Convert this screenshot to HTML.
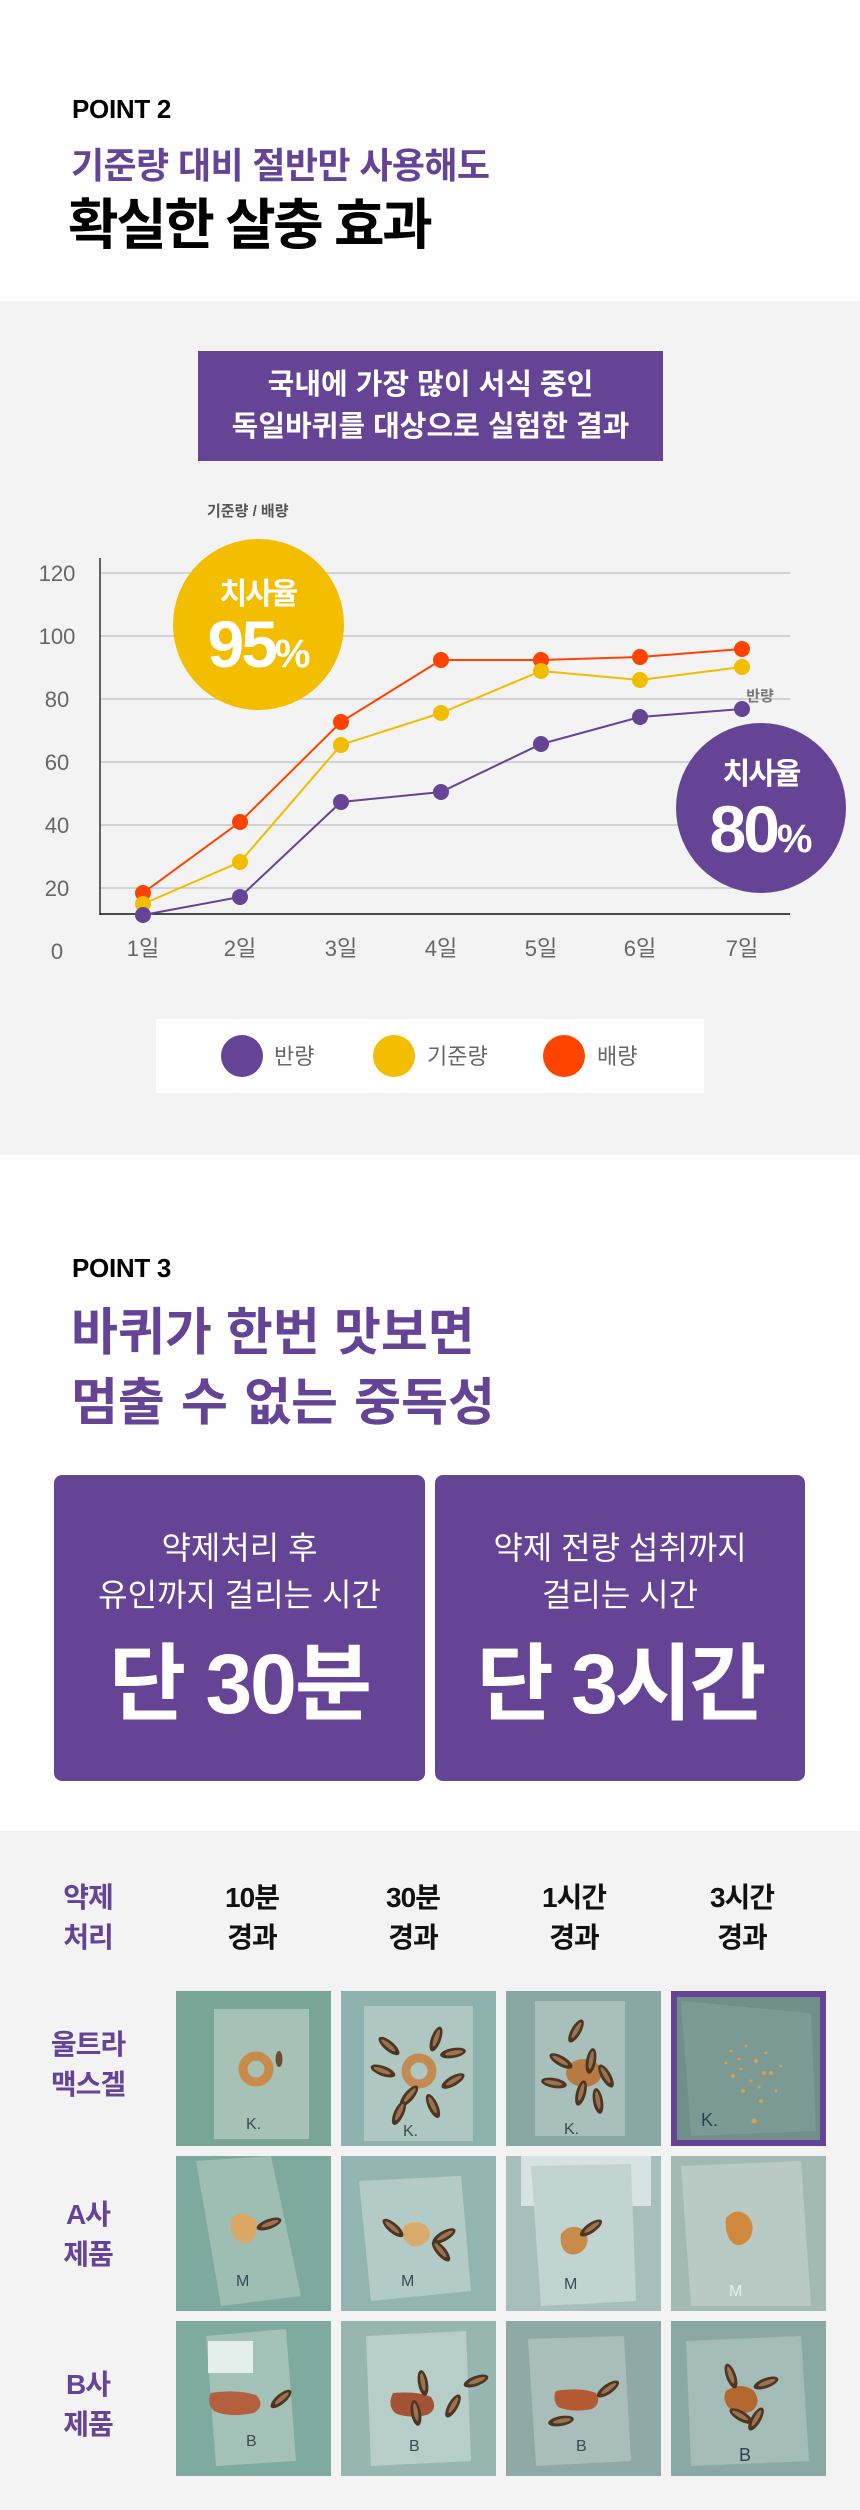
<!DOCTYPE html>
<html><head><meta charset="utf-8">
<style>
*{margin:0;padding:0;box-sizing:border-box}
body{width:860px;height:2510px;position:relative;overflow:hidden;background:#fff;font-family:"Liberation Sans","Noto Sans CJK KR",sans-serif}
.a{position:absolute;white-space:nowrap}
.band{position:absolute;left:0;width:860px;background:#f3f3f3}
.kb{font-family:"Liberation Sans","Noto Sans CJK KR",sans-serif;font-weight:700}
.c{text-align:center}
</style></head><body>

<div class="band" style="top:301px;height:854px"></div>
<div class="band" style="top:1831px;height:679px"></div>

<!-- POINT 2 -->
<div class="a kb" style="left:72px;top:96px;font-size:26px;line-height:26px;color:#000;letter-spacing:-0.3px">POINT 2</div>
<div class="a kb" style="left:71px;top:148px;font-size:36px;line-height:36px;color:#654496;letter-spacing:-0.6px">기준량 대비 절반만 사용해도</div>
<div class="a kb" style="left:68px;top:198px;font-size:55px;line-height:55px;color:#000;letter-spacing:-2.5px">확실한 살충 효과</div>

<div class="a" style="left:198px;top:351px;width:465px;height:110px;background:#654496"></div>
<div class="a kb c" style="left:198px;top:371px;width:465px;font-size:29px;line-height:29px;color:#fff;letter-spacing:0px">국내에 가장 많이 서식 중인</div>
<div class="a kb c" style="left:198px;top:413px;width:465px;font-size:29px;line-height:29px;color:#fff;letter-spacing:0px">독일바퀴를 대상으로 실험한 결과</div>

<!-- POINT 3 -->
<div class="a kb" style="left:72px;top:1255px;font-size:26px;line-height:26px;color:#000;letter-spacing:-0.3px">POINT 3</div>
<div class="a kb" style="left:71px;top:1307px;font-size:51px;line-height:51px;color:#654496;letter-spacing:0px">바퀴가 한번 맛보면</div>
<div class="a kb" style="left:71px;top:1377px;font-size:51px;line-height:51px;color:#654496;letter-spacing:0px;word-spacing:2px">멈출 수 없는 중독성</div>

<div class="a" style="left:54px;top:1475px;width:371px;height:306px;background:#654496;border-radius:8px"></div>
<div class="a" style="left:435px;top:1475px;width:370px;height:306px;background:#654496;border-radius:8px"></div>
<div class="a c" style="left:54px;top:1525px;width:371px;font-size:32px;line-height:47px;color:#fff;white-space:normal">약제처리 후<br>유인까지 걸리는 시간</div>
<div class="a c" style="left:435px;top:1525px;width:370px;font-size:32px;line-height:47px;color:#fff;white-space:normal">약제 전량 섭취까지<br>걸리는 시간</div>
<div class="a kb c" style="left:54px;top:1642px;width:371px;font-size:84px;line-height:84px;color:#fff;letter-spacing:-2px">단 30분</div>
<div class="a kb c" style="left:435px;top:1642px;width:370px;font-size:84px;line-height:84px;color:#fff;letter-spacing:-3px">단 3시간</div>

<!-- table headers -->
<div class="a kb c" style="left:40px;top:1878px;width:96px;font-size:28px;line-height:40px;color:#654496;letter-spacing:-1px;white-space:normal">약제<br>처리</div>
<div class="a kb c" style="left:192px;top:1878px;width:120px;font-size:28px;line-height:40px;color:#111;letter-spacing:-1px;white-space:normal">10분<br>경과</div>
<div class="a kb c" style="left:353px;top:1878px;width:120px;font-size:28px;line-height:40px;color:#111;letter-spacing:-1px;white-space:normal">30분<br>경과</div>
<div class="a kb c" style="left:514px;top:1878px;width:120px;font-size:28px;line-height:40px;color:#111;letter-spacing:-1px;white-space:normal">1시간<br>경과</div>
<div class="a kb c" style="left:682px;top:1878px;width:120px;font-size:28px;line-height:40px;color:#111;letter-spacing:-1px;white-space:normal">3시간<br>경과</div>

<div class="a kb c" style="left:30px;top:2025px;width:116px;font-size:28px;line-height:40px;color:#654496;letter-spacing:-1px;white-space:normal">울트라<br>맥스겔</div>
<div class="a kb c" style="left:30px;top:2195px;width:116px;font-size:28px;line-height:40px;color:#654496;letter-spacing:-1px;white-space:normal">A사<br>제품</div>
<div class="a kb c" style="left:30px;top:2365px;width:116px;font-size:28px;line-height:40px;color:#654496;letter-spacing:-1px;white-space:normal">B사<br>제품</div>

<svg class="a" style="left:0;top:0" width="860" height="2510" viewBox="0 0 860 2510" xmlns="http://www.w3.org/2000/svg">
<defs>
<g id="r"><ellipse cx="0" cy="0" rx="5" ry="13" fill="#4e3522"/><ellipse cx="0" cy="-1" rx="2.2" ry="9" fill="#9a7350"/></g>
</defs>

<!-- chart -->
<g stroke="#c8c8c8" stroke-width="1.5">
<line x1="100" y1="573" x2="790" y2="573"/>
<line x1="100" y1="636" x2="790" y2="636"/>
<line x1="100" y1="699" x2="790" y2="699"/>
<line x1="100" y1="762" x2="790" y2="762"/>
<line x1="100" y1="825" x2="790" y2="825"/>
<line x1="100" y1="888" x2="790" y2="888"/>
</g>
<line x1="100" y1="558" x2="100" y2="915" stroke="#333" stroke-width="1.5"/>
<line x1="100" y1="914" x2="790" y2="914" stroke="#111" stroke-width="1.5"/>

<g font-family="Liberation Sans, Noto Sans CJK KR, sans-serif" font-size="22" fill="#666" text-anchor="middle">
<text x="57" y="581">120</text>
<text x="57" y="644">100</text>
<text x="57" y="707">80</text>
<text x="57" y="770">60</text>
<text x="57" y="833">40</text>
<text x="57" y="896">20</text>
<text x="57" y="959">0</text>
<text x="143" y="956">1일</text>
<text x="240" y="956">2일</text>
<text x="341" y="956">3일</text>
<text x="441" y="956">4일</text>
<text x="541" y="956">5일</text>
<text x="640" y="956">6일</text>
<text x="742" y="956">7일</text>
</g>
<text x="207" y="516" font-family="Liberation Sans, Noto Sans CJK KR, sans-serif" font-size="15" font-weight="700" fill="#555">기준량 / 배량</text>

<circle cx="258.5" cy="624.5" r="85.5" fill="#f3bd00"/>
<text x="258" y="604" text-anchor="middle" font-family="Liberation Sans, Noto Sans CJK KR, sans-serif" font-size="30" font-weight="700" fill="#fff" letter-spacing="-2">치사율</text>
<text x="259" y="667" text-anchor="middle" font-family="Liberation Sans, sans-serif" font-weight="700" fill="#fff"><tspan font-size="66" letter-spacing="-3">95</tspan><tspan font-size="40">%</tspan></text>

<g fill="none" stroke-width="2">
<polyline stroke="#ff4200" points="143,893 240,822 341,722 441,660 541,660 640,657 742,649"/>
<polyline stroke="#f2bc00" points="143,904 240,862 341,745 441,713 541,671 640,680 742,667"/>
<polyline stroke="#654496" points="143,915 240,897 341,802 441,792 541,744 640,717 742,709"/>
</g>
<g fill="#ff4200">
<circle cx="143" cy="893" r="8"/><circle cx="240" cy="822" r="8"/><circle cx="341" cy="722" r="8"/><circle cx="441" cy="660" r="8"/><circle cx="541" cy="660" r="8"/><circle cx="640" cy="657" r="8"/><circle cx="742" cy="649" r="8"/>
</g>
<g fill="#f2bc00">
<circle cx="143" cy="904" r="8"/><circle cx="240" cy="862" r="8"/><circle cx="341" cy="745" r="8"/><circle cx="441" cy="713" r="8"/><circle cx="541" cy="671" r="8"/><circle cx="640" cy="680" r="8"/><circle cx="742" cy="667" r="8"/>
</g>
<g fill="#654496">
<circle cx="143" cy="915" r="8"/><circle cx="240" cy="897" r="8"/><circle cx="341" cy="802" r="8"/><circle cx="441" cy="792" r="8"/><circle cx="541" cy="744" r="8"/><circle cx="640" cy="717" r="8"/><circle cx="742" cy="709" r="8"/>
</g>
<text x="760" y="701" text-anchor="middle" font-family="Liberation Sans, Noto Sans CJK KR, sans-serif" font-size="15" font-weight="700" fill="#777">반량</text>

<circle cx="761" cy="808" r="85" fill="#654496"/>
<text x="761" y="784" text-anchor="middle" font-family="Liberation Sans, Noto Sans CJK KR, sans-serif" font-size="30" font-weight="700" fill="#fff" letter-spacing="-2">치사율</text>
<text x="761" y="852" text-anchor="middle" font-family="Liberation Sans, sans-serif" font-weight="700" fill="#fff"><tspan font-size="66" letter-spacing="-3">80</tspan><tspan font-size="40">%</tspan></text>

<!-- legend -->
<rect x="156" y="1019" width="548" height="74" fill="#fff"/>
<circle cx="242" cy="1056" r="21" fill="#654496"/>
<circle cx="394" cy="1056" r="21" fill="#f4be00"/>
<circle cx="564" cy="1056" r="21" fill="#ff4400"/>
<g font-family="Liberation Sans, Noto Sans CJK KR, sans-serif" font-size="22" fill="#666">
<text x="274" y="1064">반량</text>
<text x="427" y="1064">기준량</text>
<text x="597" y="1064">배량</text>
</g>

<!-- photos row 1 -->
<g transform="translate(176,1991)">
<rect width="155" height="155" fill="#79a596"/>
<rect x="38" y="18" width="95" height="130" fill="#a6c2b6"/>
<circle cx="80" cy="78" r="13" fill="none" stroke="#c98b4a" stroke-width="9"/>
<ellipse cx="103" cy="68" rx="3.5" ry="8" fill="#6b4a2e"/>
<text x="70" y="138" font-family="Liberation Sans, sans-serif" font-size="16" fill="#3b4a55">K.</text>
</g>
<g transform="translate(341,1991)">
<rect width="155" height="155" fill="#8eb2ad"/>
<rect x="23" y="15" width="109" height="135" fill="#aec7c0"/>
<circle cx="78" cy="80" r="13" fill="none" stroke="#c38a52" stroke-width="9"/>
<use href="#r" transform="translate(48,55) rotate(-50)"/>
<use href="#r" transform="translate(95,48) rotate(20)"/>
<use href="#r" transform="translate(112,62) rotate(80)"/>
<use href="#r" transform="translate(42,80) rotate(-70)"/>
<use href="#r" transform="translate(112,90) rotate(60)"/>
<use href="#r" transform="translate(68,105) rotate(40)"/>
<use href="#r" transform="translate(92,115) rotate(-25)"/>
<use href="#r" transform="translate(58,122) rotate(25)"/>
<text x="62" y="145" font-family="Liberation Sans, sans-serif" font-size="16" fill="#3b4a55">K.</text>
</g>
<g transform="translate(506,1991)">
<rect width="155" height="155" fill="#89a8a3"/>
<rect x="29" y="10" width="90" height="135" fill="#a9bfbb"/>
<ellipse cx="78" cy="82" rx="18" ry="14" fill="#b77a43"/>
<use href="#r" transform="translate(70,40) rotate(30)"/>
<use href="#r" transform="translate(55,70) rotate(-60)"/>
<use href="#r" transform="translate(85,70) rotate(10)"/>
<use href="#r" transform="translate(100,85) rotate(-30)"/>
<use href="#r" transform="translate(48,92) rotate(-80)"/>
<use href="#r" transform="translate(75,102) rotate(15)"/>
<use href="#r" transform="translate(92,110) rotate(-10)"/>
<text x="58" y="143" font-family="Liberation Sans, sans-serif" font-size="16" fill="#3b4a55">K.</text>
</g>
<g transform="translate(671,1991)">
<rect width="155" height="155" fill="#654496"/>
<rect x="6" y="6" width="143" height="143" fill="#6f8f88"/>
<polygon points="10,10 140,22 145,140 20,145" fill="#7a9a93"/>
<g fill="#d9a050">
<circle cx="60" cy="60" r="1.5"/><circle cx="75" cy="55" r="1.5"/><circle cx="85" cy="70" r="2"/><circle cx="70" cy="78" r="1.5"/><circle cx="95" cy="62" r="1.5"/><circle cx="62" cy="85" r="2"/><circle cx="80" cy="90" r="1.5"/><circle cx="100" cy="82" r="2"/><circle cx="88" cy="96" r="1.5"/><circle cx="72" cy="100" r="2"/><circle cx="105" cy="100" r="1.5"/><circle cx="90" cy="110" r="2"/><circle cx="55" cy="72" r="1.5"/><circle cx="110" cy="75" r="1.5"/><circle cx="83" cy="130" r="2.5"/><circle cx="68" cy="68" r="1.5"/><circle cx="93" cy="82" r="2"/>
</g>
<text x="30" y="135" font-family="Liberation Sans, sans-serif" font-size="18" fill="#2f3f50">K.</text>
</g>

<!-- photos row 2 -->
<g transform="translate(176,2156)">
<rect width="155" height="155" fill="#7da99e"/>
<polygon points="20,5 95,0 125,140 45,150" fill="#9fbeb3"/>
<path d="M55,63 q10,-10 20,-2 q10,5 5,15 q-5,15 -15,10 q-12,-5 -10,-23z" fill="#dba764"/>
<use href="#r" transform="translate(93,68) rotate(70)"/>
<text x="60" y="130" font-family="Liberation Sans, sans-serif" font-size="16" fill="#3b4a55">M</text>
</g>
<g transform="translate(341,2156)">
<rect width="155" height="155" fill="#93b5b1"/>
<polygon points="18,25 120,20 130,135 30,145" fill="#b3cbc6"/>
<path d="M63,70 q12,-8 22,0 q8,8 0,16 q-10,8 -18,2 q-8,-8 -4,-18z" fill="#d8ab6d"/>
<use href="#r" transform="translate(103,80) rotate(60)"/>
<use href="#r" transform="translate(100,95) rotate(-40)"/>
<use href="#r" transform="translate(52,72) rotate(-50)"/>
<text x="60" y="130" font-family="Liberation Sans, sans-serif" font-size="16" fill="#3b4a55">M</text>
</g>
<g transform="translate(506,2156)">
<rect width="155" height="155" fill="#a6bfbd"/>
<rect x="15" y="0" width="130" height="50" fill="#d6e3e2"/>
<polygon points="25,10 125,8 130,145 35,150" fill="#c2d4d1"/>
<path d="M55,78 q10,-12 22,-4 q8,8 2,18 q-8,10 -18,5 q-8,-6 -6,-19z" fill="#c98b4c"/>
<use href="#r" transform="translate(85,72) rotate(55)"/>
<text x="58" y="133" font-family="Liberation Sans, sans-serif" font-size="16" fill="#3b4a55">M</text>
</g>
<g transform="translate(671,2156)">
<rect width="155" height="155" fill="#a3bab3"/>
<polygon points="10,10 130,5 140,150 20,150" fill="#b9cac4"/>
<path d="M55,62 q10,-12 22,-2 q8,10 2,22 q-8,10 -16,6 q-10,-8 -8,-26z" fill="#d08a40"/>
<text x="58" y="140" font-family="Liberation Sans, sans-serif" font-size="16" fill="#e8eeee">M</text>
</g>

<!-- photos row 3 -->
<g transform="translate(176,2321)">
<rect width="155" height="155" fill="#7eaaa0"/>
<polygon points="30,15 110,8 120,140 40,145" fill="#a3c1b7"/>
<rect x="32" y="20" width="45" height="32" fill="#e4eeea"/>
<path d="M35,72 q25,-4 45,2 q10,10 -2,18 q-25,5 -40,-2 q-8,-8 -3,-18z" fill="#b45f3e"/>
<use href="#r" transform="translate(105,78) rotate(50)"/>
<text x="70" y="125" font-family="Liberation Sans, sans-serif" font-size="16" fill="#3b4a55">B</text>
</g>
<g transform="translate(341,2321)">
<rect width="155" height="155" fill="#98b6b0"/>
<polygon points="25,15 125,10 130,140 30,145" fill="#b7cdc8"/>
<path d="M52,72 q25,-2 38,4 q8,12 -4,18 q-20,4 -32,-2 q-8,-8 -2,-20z" fill="#a45236"/>
<use href="#r" transform="translate(82,62) rotate(-10)"/>
<use href="#r" transform="translate(75,92) rotate(-10)"/>
<use href="#r" transform="translate(112,85) rotate(30)"/>
<use href="#r" transform="translate(135,60) rotate(70)"/>
<text x="68" y="130" font-family="Liberation Sans, sans-serif" font-size="16" fill="#3b4a55">B</text>
</g>
<g transform="translate(506,2321)">
<rect width="155" height="155" fill="#8fa9a6"/>
<polygon points="22,18 118,15 125,140 30,145" fill="#a9bebb"/>
<path d="M50,70 q25,-4 40,2 q6,10 -4,16 q-20,4 -34,-2 q-6,-8 -2,-16z" fill="#b35a35"/>
<use href="#r" transform="translate(102,68) rotate(55)"/>
<use href="#r" transform="translate(55,100) rotate(80)"/>
<text x="70" y="130" font-family="Liberation Sans, sans-serif" font-size="16" fill="#3b4a55">B</text>
</g>
<g transform="translate(671,2321)">
<rect width="155" height="155" fill="#8aa9a5"/>
<polygon points="15,20 130,15 138,140 20,145" fill="#a4bcb8"/>
<path d="M55,70 q15,-10 28,0 q8,12 -2,20 q-15,6 -24,-4 q-6,-8 -2,-16z" fill="#b2682e"/>
<use href="#r" transform="translate(60,55) rotate(-20)"/>
<use href="#r" transform="translate(95,62) rotate(70)"/>
<use href="#r" transform="translate(70,95) rotate(-60)"/>
<use href="#r" transform="translate(85,98) rotate(30)"/>
<text x="68" y="140" font-family="Liberation Sans, sans-serif" font-size="18" fill="#2f3f50">B</text>
</g>
</svg>
</body></html>
